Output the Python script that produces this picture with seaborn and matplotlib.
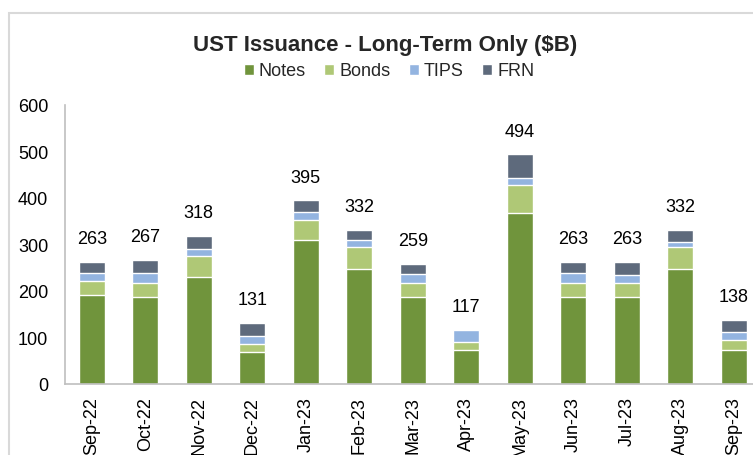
import numpy as np
import pandas as pd
import matplotlib
matplotlib.use("Agg")
import matplotlib.pyplot as plt
from matplotlib.patches import Rectangle, Patch
import seaborn as sns

# ── Data ($B) ────────────────────────────────────────────────────────────────
months = ["Sep-22", "Oct-22", "Nov-22", "Dec-22", "Jan-23", "Feb-23", "Mar-23",
          "Apr-23", "May-23", "Jun-23", "Jul-23", "Aug-23", "Sep-23"]
notes = [191, 187, 231, 68, 309, 248, 188, 73, 367, 187, 187, 248, 73]
bonds = [30, 31, 44, 19, 44, 47, 30, 17, 60, 31, 31, 47, 21]
tips  = [17, 20, 16, 16, 17, 14, 18, 27, 17, 20, 17, 11, 17]
frn   = [25, 29, 27, 28, 25, 23, 23, 0, 50, 25, 28, 26, 27]

series_names  = ["Notes", "Bonds", "TIPS", "FRN"]
series_colors = ["#70943C", "#AFC876", "#93B4E0", "#5E6A7C"]

sns.set_style("white")
plt.rcParams["font.family"] = ["Liberation Sans", "DejaVu Sans"]

df = pd.DataFrame({"month": months, "Notes": notes, "Bonds": bonds,
                   "TIPS": tips, "FRN": frn})
cum = df[series_names].cumsum(axis=1)
totals = cum["FRN"]

fig = plt.figure(figsize=(7.53, 4.56), dpi=100)
ax = fig.add_axes([65 / 753, 71 / 456, 695.5 / 753, 279 / 456])

# draw cumulative stacks, tallest first so lower layers sit on top
for name, color in reversed(list(zip(series_names, series_colors))):
    sns.barplot(x=df["month"], y=cum[name], color=color, width=0.486,
                edgecolor="white", linewidth=1.0, saturation=1, ax=ax)

for i, tot in enumerate(totals):
    ax.annotate(f"{tot:d}", (i, tot), xytext=(0, 13.5), textcoords="offset points",
                ha="center", va="baseline", fontsize=13, color="#000000")

ax.set_xlim(-0.5, 12.5)
ax.set_ylim(0, 600)
ax.set_yticks(range(0, 601, 100))
ax.set_xlabel("")
ax.set_ylabel("")
ax.tick_params(axis="both", length=0, labelsize=13, colors="#000000")
ax.tick_params(axis="y", pad=12)
ax.tick_params(axis="x", pad=9)
plt.setp(ax.get_xticklabels(), rotation=90, va="top", ha="center")
for side in ["top", "right"]:
    ax.spines[side].set_visible(False)
for side in ["left", "bottom"]:
    ax.spines[side].set_color("#BFBFBF")
    ax.spines[side].set_linewidth(1.2)

# ── Title & legend ──────────────────────────────────────────────────────────
fig.text(385 / 753, 1 - 45 / 456, "UST Issuance - Long-Term Only ($B)",
         ha="center", va="center", fontsize=16, fontweight="bold")
handles = [Patch(facecolor=c, label=n) for n, c in zip(series_names, series_colors)]
fig.legend(handles=handles, loc="center", bbox_to_anchor=(389 / 753, 1 - 72 / 456),
           ncol=4, frameon=False, fontsize=13, handlelength=0.55, handleheight=0.55,
           handletextpad=0.3, columnspacing=1.0, borderpad=0)

# outer chart-area frame
fig.add_artist(Rectangle((9 / 753, -0.1), 1.2, 1 - 14 / 456 + 0.1,
                         transform=fig.transFigure, fill=False,
                         edgecolor="#D9D9D9", linewidth=1.5))

fig.savefig("out.png", dpi=100)
plt.close(fig)
